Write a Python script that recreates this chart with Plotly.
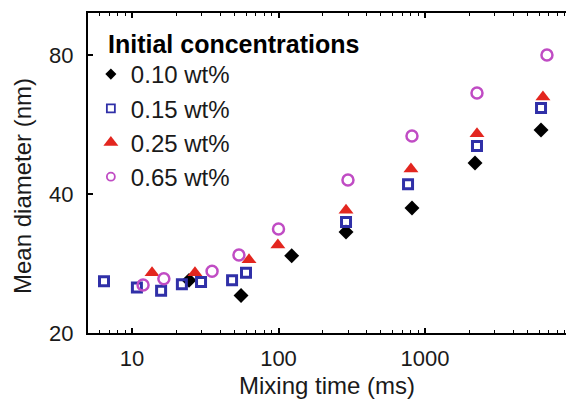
import math
import plotly.graph_objects as go

# Mean particle diameter (nm) against mixing time (ms), one series per initial concentration
time_010 = [24.5, 55.5, 123, 289, 815, 2195, 6195]
diam_010 = [26.0, 24.1, 29.4, 33.1, 37.3, 46.7, 55.0]

time_015 = [6.44, 10.8, 15.8, 21.9, 29.6, 48.2, 60.0, 289, 766, 2264, 6195]
diam_015 = [25.9, 25.1, 24.7, 25.5, 25.8, 26.0, 27.0, 34.8, 42.0, 50.8, 61.4]

time_025 = [13.7, 26.9, 62.9, 99, 289, 802, 2264, 6383]
diam_025 = [27.0, 27.0, 28.8, 31.0, 36.9, 45.3, 54.0, 64.9]

time_065 = [11.9, 16.5, 35.2, 53.7, 100, 298, 815, 2264, 6800]
diam_065 = [25.4, 26.2, 27.2, 29.5, 33.6, 42.9, 53.4, 66.2, 80.0]

series_names = ["0.10 wt%", "0.15 wt%", "0.25 wt%", "0.65 wt%"]
x_tick_vals = [10, 100, 1000]
x_tick_text = ["10", "100", "1000"]
y_tick_vals = [20, 40, 80]
y_tick_text = ["20", "40", "80"]

FONT = "Liberation Sans, Arial, Helvetica, sans-serif"
INK = "#1a1a1a"

# marker style per series: (symbol, fill, outline, size, line width)
styles = [
    ("diamond", "#000000", "#000000", 11.5, 0),
    ("square-open", "#3030a8", "#3030a8", 9, 3),
    ("triangle-up", "#e3261f", "#e3261f", 13, 0),
    ("circle-open", "#c04cc4", "#c04cc4", 11, 2.5),
]
legend_sizes = [8.5, 8, 13, 8]
legend_lw = [0, 1.8, 0, 1.8]

data = [(time_010, diam_010), (time_015, diam_015), (time_025, diam_025), (time_065, diam_065)]

fig = go.Figure()

for (xs, ys), (sym, fill, edge, size, lw) in zip(data, styles):
    fig.add_trace(go.Scatter(
        x=xs, y=ys, mode="markers", showlegend=False,
        marker=dict(symbol=sym, color=fill, size=size,
                    line=dict(color=edge, width=lw)),
    ))

# smaller symbols for the legend keys
for name, (sym, fill, edge, size, lw), ls, llw in zip(series_names, styles, legend_sizes, legend_lw):
    fig.add_trace(go.Scatter(
        x=[None], y=[None], mode="markers", name=name,
        marker=dict(symbol=sym, color=fill, size=ls,
                    line=dict(color=edge, width=llw)),
    ))

fig.update_layout(
    width=566, height=403,
    margin=dict(l=88, r=0, t=13, b=70),
    paper_bgcolor="white", plot_bgcolor="white",
    font=dict(family=FONT, color=INK, size=22),
    showlegend=True,
    legend=dict(
        x=0.006, y=(333 - 52) / 320, xanchor="left", yanchor="top",
        bgcolor="rgba(0,0,0,0)", borderwidth=0,
        font=dict(family=FONT, size=24, color=INK),
        itemclick=False, itemdoubleclick=False,
    ),
)

fig.update_xaxes(
    type="log",
    range=[1 - 44 / 146.5, 3 + 141 / 146.5],
    tickmode="array", tickvals=x_tick_vals, ticktext=x_tick_text,
    ticks="inside", ticklen=5, tickwidth=1.5, tickcolor="black",
    minor=dict(ticks="inside", ticklen=3, tickwidth=1, tickcolor="black",
               dtick="D1", showgrid=False),
    showline=True, linecolor="black", linewidth=2, mirror="ticks",
    showgrid=False, zeroline=False,
    tickfont=dict(size=22, color=INK, family=FONT),
    ticklabelstandoff=5,
)

fig.update_yaxes(
    type="log",
    range=[math.log10(20), math.log10(98.6)],
    tickmode="array", tickvals=y_tick_vals, ticktext=y_tick_text,
    ticks="inside", ticklen=5, tickwidth=1.5, tickcolor="black",
    showline=True, linecolor="black", linewidth=2, mirror=False,
    showgrid=False, zeroline=False,
    tickfont=dict(size=22, color=INK, family=FONT),
    ticklabelstandoff=8,
)

fig.add_annotation(
    text="<b>Initial concentrations</b>", xref="paper", yref="paper",
    x=(106 - 88) / 478, y=(333 - 44) / 320, xanchor="left", yanchor="middle",
    showarrow=False, font=dict(family=FONT, size=25, color="black"),
)
fig.add_annotation(
    text="Mean diameter (nm)", xref="paper", yref="paper",
    x=(22 - 88) / 478, y=(333 - 186) / 320, xanchor="center", yanchor="middle",
    textangle=-90, showarrow=False, font=dict(family=FONT, size=24, color=INK),
)
fig.add_annotation(
    text="Mixing time (ms)", xref="paper", yref="paper",
    x=(327 - 88) / 478, y=(333 - 385) / 320, xanchor="center", yanchor="middle",
    showarrow=False, font=dict(family=FONT, size=24, color=INK),
)

fig.write_html("out.html")
